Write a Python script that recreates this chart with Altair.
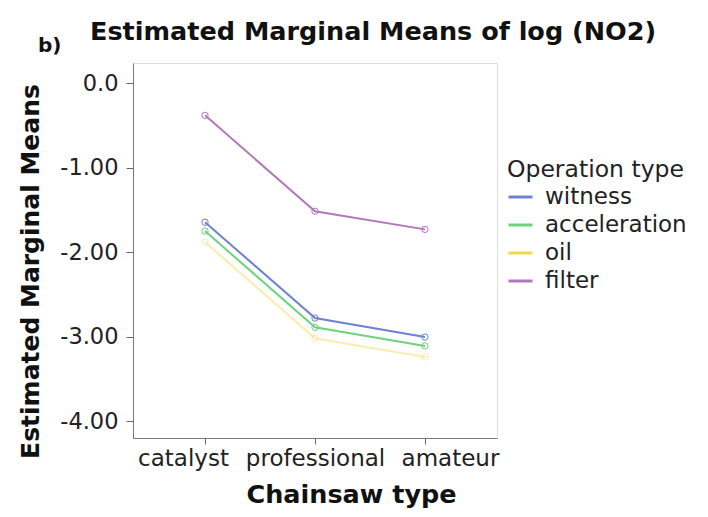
import altair as alt
import pandas as pd

chainsaw = ["catalyst", "professional", "amateur"]
operations = ["witness", "acceleration", "oil", "filter"]
witness = [-1.645, -2.78, -3.005]
acceleration = [-1.75, -2.89, -3.11]
oil = [-1.88, -3.02, -3.24]
filter_ = [-0.38, -1.515, -1.73]
colors = ["#6b82d6", "#6ed37a", "#efd84e", "#b376bb"]

rows = []
for op, vals in zip(operations, [witness, acceleration, oil, filter_]):
    for c, v in zip(chainsaw, vals):
        rows.append({"Chainsaw type": c, "Operation type": op, "mean": v})
df = pd.DataFrame(rows)

FONT = "DejaVu Sans"

x = alt.X("Chainsaw type:N", sort=chainsaw,
          scale=alt.Scale(type="point", padding=0.655),
          axis=alt.Axis(title="Chainsaw type", labelAngle=0, labelFontSize=23,
                        labelFont=FONT, labelColor="#222", labelPadding=3,
                        labelOffset={"condition": [
                            {"test": "datum.value === 'catalyst'", "value": -22},
                            {"test": "datum.value === 'amateur'", "value": 25}],
                            "value": 0},
                        tickSize=6, tickColor="#666", domainColor="#777",
                        titleFont=FONT, titleFontSize=25.5, titleFontWeight="bold",
                        titleColor="#111", titleX=218, titleY=44,
                        titleBaseline="top", titleAnchor="middle"))
y = alt.Y("mean:Q", scale=alt.Scale(domain=[-4.2, 0.24], nice=False, zero=False),
          axis=alt.Axis(title="Estimated Marginal Means", values=[0, -1, -2, -3, -4],
                        labelExpr="datum.value == 0 ? '0.0' : '-' + format(abs(datum.value), '.2f')",
                        labelFontSize=22.5, labelFont=FONT, labelColor="#222",
                        labelPadding=8, tickSize=7, tickColor="#666", domainColor="#777",
                        grid=False, titleFont=FONT, titleFontSize=25,
                        titleFontWeight="bold", titleColor="#111",
                        titleX=-95, titleY=208, titleBaseline="alphabetic"))
color = alt.Color("Operation type:N", sort=operations,
                  scale=alt.Scale(domain=operations, range=colors),
                  legend=alt.Legend(orient="none", legendX=374, legendY=95,
                                    symbolType="stroke", symbolSize=576,
                                    symbolStrokeWidth=3, labelFontSize=23,
                                    labelFont=FONT, labelColor="#222",
                                    titleFont=FONT, titleFontSize=23.5,
                                    titleFontWeight="normal", titleColor="#222",
                                    labelOffset=11, rowPadding=2, titlePadding=2))
op = alt.condition(alt.datum["Operation type"] == "oil", alt.value(0.45), alt.value(1.0))

base = alt.Chart(df)
lines = base.mark_line(strokeWidth=2).encode(x=x, y=y, color=color, opacity=op,
                                              detail="Operation type:N")
points = base.mark_point(shape="circle", filled=False, size=40, strokeWidth=1).encode(
    x=x, y=y, color=alt.Color("Operation type:N", sort=operations,
                              scale=alt.Scale(domain=operations, range=colors), legend=None),
    opacity=op)
texts = pd.DataFrame({"t": ["b)", "Estimated Marginal Means of log (NO2)"]})
label = alt.Chart(texts).transform_filter(alt.datum.t == "b)").mark_text(
    font=FONT, fontSize=20, fontWeight="bold", align="left", baseline="alphabetic",
    color="#111").encode(x=alt.value(-95), y=alt.value(-11), text="t:N")
title = alt.Chart(texts).transform_filter(alt.datum.t != "b)").mark_text(
    font=FONT, fontSize=25.5, fontWeight="bold", align="left", baseline="alphabetic",
    color="#111").encode(x=alt.value(-43), y=alt.value(-23), text="t:N")

chart = alt.layer(lines, points, label, title).properties(
    width=364, height=375,
    autosize=alt.AutoSizeParams(type="none"),
    padding={"left": 125, "top": 55, "right": 203, "bottom": 71},
).configure_view(stroke="#888", strokeWidth=1.5).configure(background="white")

chart.save("out.html", embed_options={"renderer": "svg", "actions": False})
